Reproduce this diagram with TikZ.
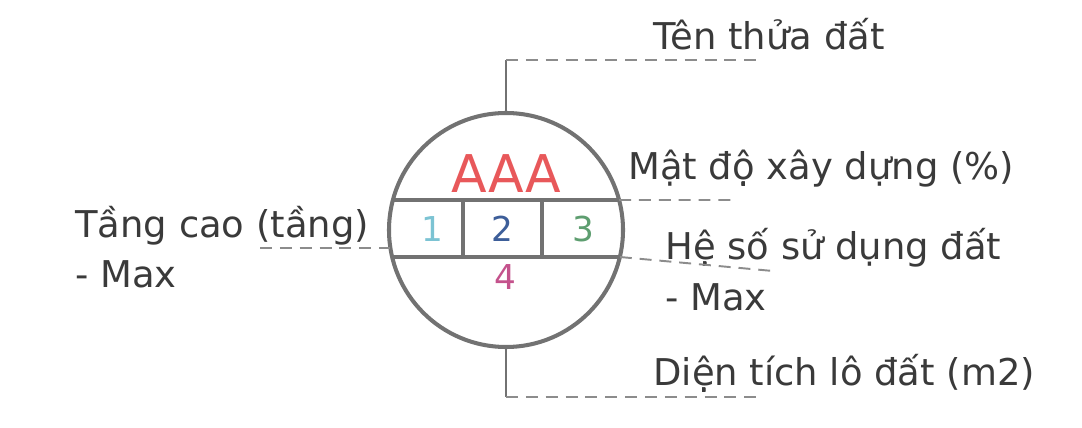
\documentclass[tikz,border=0pt]{standalone}
\usepackage{fontspec}
\setmainfont{DejaVu Sans}
\usepackage{tikz}
\usetikzlibrary{calc}

\definecolor{ringgray}{HTML}{727272}
\definecolor{leadgray}{HTML}{8C8C8C}
\definecolor{textgray}{HTML}{3A3A3A}
\definecolor{codered}{HTML}{E8585A}
\definecolor{cellone}{HTML}{7CC3D3}
\definecolor{celltwo}{HTML}{3D5E99}
\definecolor{cellthree}{HTML}{5E9E70}
\definecolor{cellfour}{HTML}{C4528C}

\begin{document}
\begin{tikzpicture}[
  note/.style={anchor=base west, inner sep=0pt, text=textgray, align=left,
    font=\fontsize{21}{29}\selectfont},
  leader/.style={draw=leadgray, line width=1.1pt, dash pattern=on 6.8pt off 4.5pt},
  stem/.style={draw=ringgray, line width=1.4pt},
  divider/.style={draw=ringgray, line width=1.8pt},
  num/.style={anchor=base, inner sep=0pt, font=\fontsize{19.5}{20}\selectfont}
]
\useasboundingbox (0,0) rectangle (21.64,8.54);

% lot symbol
\node[circle, draw=ringgray, line width=2.3pt, minimum size=4.68cm, inner sep=0pt] (lot) at (10.12,3.94) {};
\coordinate (uL) at ($(lot.center)+(-2.262,0.60)$);
\coordinate (uR) at ($(lot.center)+(2.262,0.60)$);
\coordinate (lL) at ($(lot.center)+(-2.277,-0.54)$);
\coordinate (lR) at ($(lot.center)+(2.277,-0.54)$);
\draw[divider] (uL) -- (uR);
\draw[divider] (lL) -- (lR);
\draw[divider] (9.26,4.54) -- (9.26,3.40);
\draw[divider] (10.84,4.54) -- (10.84,3.40);

\node[anchor=base, inner sep=0pt, text=codered, font=\fontsize{29.6}{30}\selectfont] (code) at (10.12,4.68) {AAA};
\node[num, text=cellone] (c1) at (8.64,3.71) {1};
\node[num, text=celltwo] (c2) at (10.04,3.71) {2};
\node[num, text=cellthree] (c3) at (11.66,3.71) {3};
\node[num, text=cellfour] (c4) at (10.10,2.75) {4};

% labels (two-line ones sit on their last line)
\node[note] (name) at (13.06,7.54) {Tên thửa đất};
\node[note] (density) at (12.56,4.94) {Mật độ xây dựng (\%)};
\node[note] (floors) at (1.5,2.78) {Tầng cao (tầng)\\- Max};
\node[note] (far) at (13.3,2.34) {Hệ số sử dụng đất\\- Max};
\node[note] (area) at (13.06,0.84) {Diện tích lô đất (m2)};

% leaders
\coordinate (topbend) at (10.12,7.34);
\coordinate (topend) at (15.26,7.34);
\coordinate (botbend) at (10.12,0.60);
\coordinate (botend) at (15.20,0.60);
\coordinate (densend) at (14.74,4.54);
\coordinate (farend) at (15.46,3.12);
\coordinate (floorsend) at (5.20,3.58);
\coordinate (floorsjoin) at ($(lot.center)+(-2.312,-0.36)$);

\draw[stem] (lot.north) -- (topbend);
\draw[leader] (topbend) -- (topend);
\draw[stem] (lot.south) -- (botbend);
\draw[leader] (botbend) -- (botend);
\draw[leader] (uR) -- (densend);
\draw[leader] (lR) -- (farend);
\draw[leader] (floorsend) -- (floorsjoin);
\end{tikzpicture}
\end{document}
